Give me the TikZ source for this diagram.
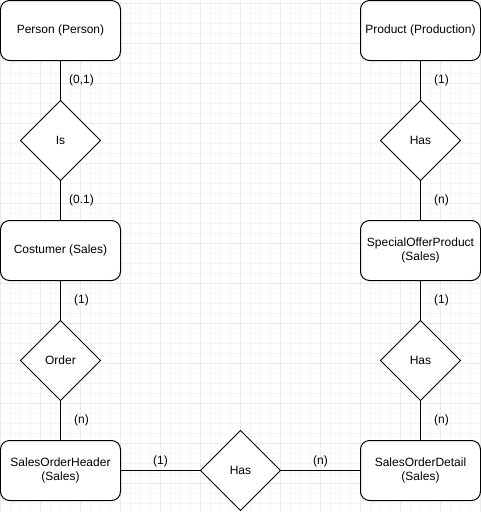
\documentclass[tikz,border=0pt]{standalone}
\usepackage{fontspec}
\setmainfont{Liberation Sans}
\usepackage{tikz}
\usetikzlibrary{positioning, shapes.geometric}

\begin{document}
\begin{tikzpicture}[
        x=1pt, y=-1pt, line width=1pt, node distance=40pt,
        font=\fontsize{12}{14}\selectfont,
        entitynode/.style={rectangle, rounded corners=9pt, draw=black, fill=white, minimum width=120pt, minimum height=60pt, align=center, inner sep=2pt, outer sep=0pt},
        relationnode/.style={diamond, draw=black, fill=white, minimum width=80pt, minimum height=80pt, inner sep=0pt, outer sep=0pt},
        cardlabel/.style={inner sep=1pt},
        gridminor/.style={draw=black!4, line width=0.6pt},
        gridmajor/.style={draw=black!8, line width=0.7pt},
]
        \useasboundingbox (-0.5,-0.5) rectangle (480.5,511.5);
        \foreach \gx in {0,10,...,480} \draw[gridminor] (\gx,0) -- (\gx,512);
        \foreach \gy in {3,13,...,511} \draw[gridminor] (0,\gy) -- (481,\gy);
        \foreach \gx in {0,40,...,480} \draw[gridmajor] (\gx,0) -- (\gx,512);
        \foreach \gy in {3,43,...,483} \draw[gridmajor] (0,\gy) -- (481,\gy);

        \node[entitynode] (person) at (60,30) {Person (Person)};
        \node[relationnode] (is) [below=of person] {Is};
        \node[entitynode] (costumer) [below=of is] {Costumer (Sales)};
        \node[relationnode] (order) [below=of costumer] {Order};
        \node[entitynode] (soheader) [below=of order] {SalesOrderHeader\\(Sales)};

        \node[entitynode] (product) at (420,30) {Product (Production)};
        \node[relationnode] (hasup) [below=of product] {Has};
        \node[entitynode] (offerproduct) [below=of hasup] {SpecialOfferProduct\\(Sales)};
        \node[relationnode] (haslow) [below=of offerproduct] {Has};
        \node[entitynode] (sodetail) [below=of haslow] {SalesOrderDetail\\(Sales)};

        \node[relationnode] (hasmid) [right=80pt of soheader] {Has};

        \draw (person) -- node[cardlabel, xshift=21pt] {(0,1)} (is);
        \draw (is) -- node[cardlabel, xshift=21pt] {(0.1)} (costumer);
        \draw (costumer) -- node[cardlabel, xshift=21pt] {(1)} (order);
        \draw (order) -- node[cardlabel, xshift=21pt] {(n)} (soheader);
        \draw (product) -- node[cardlabel, xshift=21pt] {(1)} (hasup);
        \draw (hasup) -- node[cardlabel, xshift=21pt] {(n)} (offerproduct);
        \draw (offerproduct) -- node[cardlabel, xshift=21pt] {(1)} (haslow);
        \draw (haslow) -- node[cardlabel, xshift=21pt] {(n)} (sodetail);
        \draw (soheader) -- node[cardlabel, yshift=9pt] {(1)} (hasmid);
        \draw (hasmid) -- node[cardlabel, yshift=9pt] {(n)} (sodetail);
\end{tikzpicture}
\end{document}
